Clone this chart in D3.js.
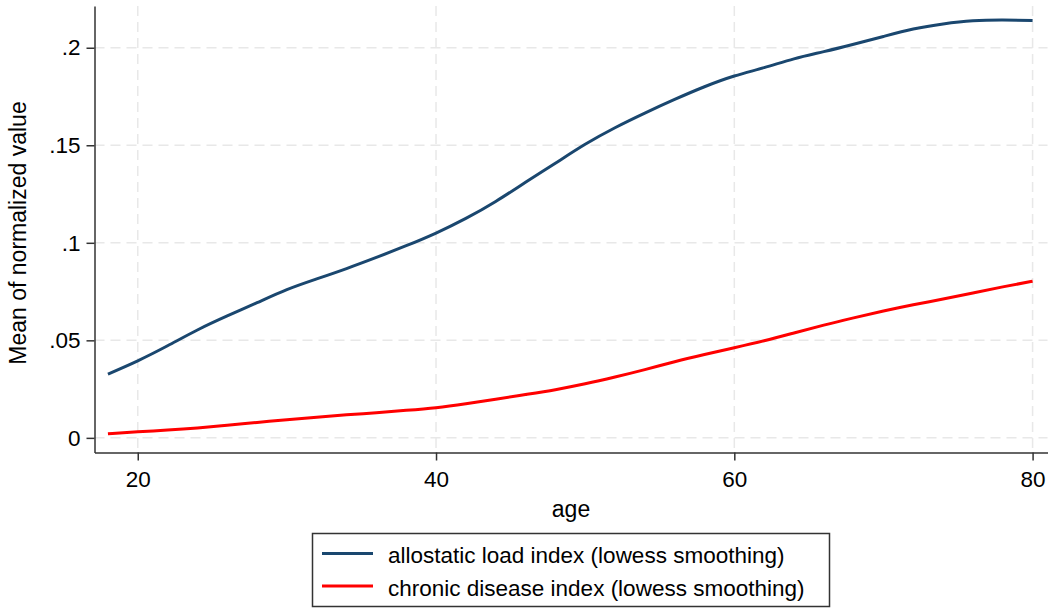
<!DOCTYPE html>
<html>
<head>
<meta charset="utf-8">
<script src="https://cdn.jsdelivr.net/npm/d3@7"></script>
<style>
html,body{margin:0;padding:0;background:#fff;}
svg{display:block;font-family:"Liberation Sans",Arial,sans-serif;}
</style>
</head>
<body>
<svg id="chart" width="1051" height="608"></svg>
<script>
const ages = [18,20,22,24,26,28,30,32,34,36,38,40,42,44,46,48,50,52,54,56,58,60,62,64,66,68,70,72,74,76,78,80];
const allostatic = [0.0327,0.0395,0.0472,0.0553,0.0625,0.0693,0.0760,0.0815,0.0868,0.0925,0.0985,0.1050,0.1125,0.1212,0.1310,0.1408,0.1505,0.1590,0.1665,0.1735,0.1800,0.1855,0.1898,0.1943,0.1980,0.2018,0.2058,0.2096,0.2122,0.2138,0.2142,0.2140];
const chronic = [0.0021,0.0031,0.0040,0.0051,0.0065,0.0079,0.0093,0.0106,0.0118,0.0129,0.0141,0.0155,0.0175,0.0198,0.0222,0.0247,0.0277,0.0312,0.0350,0.0390,0.0427,0.0462,0.0498,0.0538,0.0578,0.0615,0.0650,0.0682,0.0712,0.0743,0.0774,0.0803];
const xTicks = [20,40,60,80];
const yTicks = [0,0.05,0.1,0.15,0.2];
const yTickLabels = ["0",".05",".1",".15",".2"];
const seriesNames = ["allostatic load index (lowess smoothing)","chronic disease index (lowess smoothing)"];
const seriesColors = ["#1a476f","#ff0000"];

(function(){
const svg = d3.select("#chart");
const pL = 94.5, pR = 1047.5, pT = 6, pB = 452.5;
const x = d3.scaleLinear().domain([17.1, 81.0]).range([pL, pR]);
const y = d3.scaleLinear().domain([-0.0075, 0.2214]).range([pB, pT]);
const fs = "22.5px";

// gridlines
const grid = svg.append("g");
grid.selectAll("line.gx").data(xTicks).join("line").attr("class","gx")
  .attr("x1", d => x(d)).attr("x2", d => x(d)).attr("y1", pT).attr("y2", pB)
  .attr("stroke", "#e8e8e8").attr("stroke-width", 1.5).attr("stroke-dasharray", "10,6");
grid.selectAll("line.gy").data(yTicks).join("line").attr("class","gy")
  .attr("y1", d => y(d)).attr("y2", d => y(d)).attr("x1", pL).attr("x2", pR)
  .attr("stroke", "#e8e8e8").attr("stroke-width", 1.5).attr("stroke-dasharray", "10,6");

// axes
const xAxis = d3.axisBottom(x).tickValues(xTicks).tickSize(8).tickPadding(11).tickSizeOuter(0);
const yAxis = d3.axisLeft(y).tickValues(yTicks).tickFormat((d,i) => yTickLabels[i]).tickSize(8).tickPadding(6).tickSizeOuter(0);
const gx = svg.append("g").attr("transform", `translate(0,${pB})`).call(xAxis);
const gy = svg.append("g").attr("transform", `translate(${pL},0)`).call(yAxis);
[gx, gy].forEach(g => {
  g.select(".domain").attr("stroke", "#333").attr("stroke-width", 1.5);
  g.selectAll(".tick line").attr("stroke", "#333").attr("stroke-width", 1.5);
  g.selectAll(".tick text").attr("fill", "#000").style("font-size", fs).style("font-family", "Liberation Sans, Arial, sans-serif");
});

// lines
const line = d3.line().x((d,i) => x(ages[i])).y(d => y(d)).curve(d3.curveNatural);
[allostatic, chronic].forEach((s, k) => {
  svg.append("path").datum(s).attr("d", line)
    .attr("fill", "none").attr("stroke", seriesColors[k]).attr("stroke-width", 3)
    .attr("stroke-linejoin", "round").attr("stroke-linecap", "butt");
});

// axis titles
svg.append("text").attr("x", 571).attr("y", 516.5).attr("text-anchor", "middle")
  .style("font-size", "23px").text("age");
svg.append("text").attr("transform", "translate(26,233) rotate(-90)").attr("text-anchor", "middle")
  .style("font-size", "23px").text("Mean of normalized value");

// legend
const lg = svg.append("g");
lg.append("rect").attr("x", 312.5).attr("y", 533.5).attr("width", 517).attr("height", 73)
  .attr("fill", "#fff").attr("stroke", "#333").attr("stroke-width", 1.5);
seriesNames.forEach((name, k) => {
  const cy = 553.5 + k * 32.5;
  lg.append("line").attr("x1", 322).attr("x2", 373).attr("y1", cy).attr("y2", cy)
    .attr("stroke", seriesColors[k]).attr("stroke-width", 3);
  lg.append("text").attr("x", 388).attr("y", cy + 9.5).style("font-size", fs).text(name);
});
})();
</script>
</body>
</html>
